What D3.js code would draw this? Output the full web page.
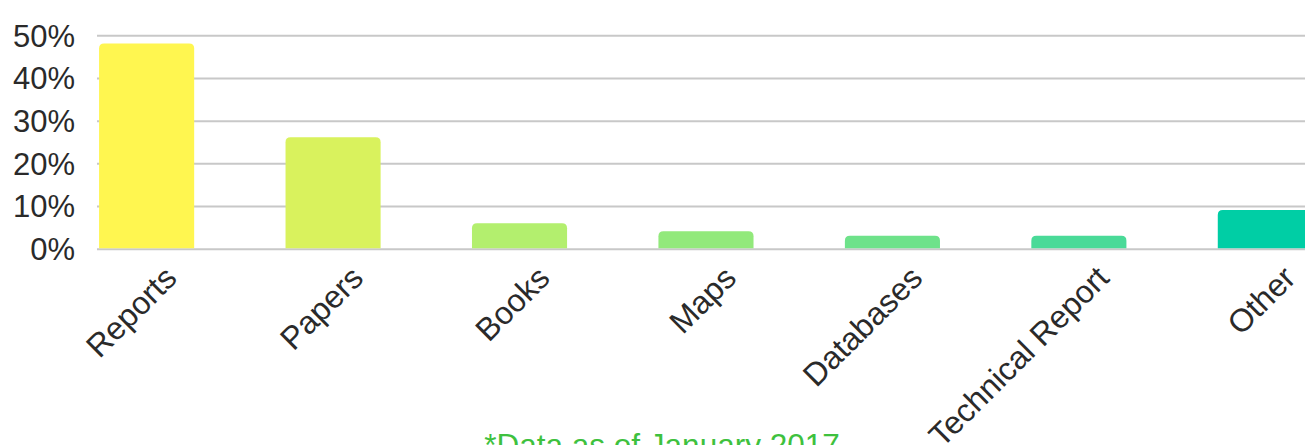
<!DOCTYPE html>
<html>
<head>
<meta charset="utf-8">
<script src="https://cdn.jsdelivr.net/npm/d3@7"></script>
<style>
  html, body { margin: 0; padding: 0; background: #fff; overflow: hidden; }
  svg { display: block; font-family: "Liberation Sans", Arial, sans-serif; }
</style>
</head>
<body>
<svg id="chart" width="1305" height="445"></svg>
<script>
const categories = ["Reports", "Papers", "Books", "Maps", "Databases", "Technical Report", "Other"];
const values = [48.2, 26.2, 6.1, 4.2, 3.2, 3.2, 9.2];
const colors = ["#fff650", "#d9f25d", "#b3ef6e", "#92e97b", "#6ee28a", "#4ada98", "#00cea5"];
const yTicks = [0, 10, 20, 30, 40, 50];
const footnote = "*Data as of January 2017";

const svg = d3.select("#chart");
const W = 1305;

const x = d3.scaleBand()
  .domain(categories)
  .range([53.4, 53.4 + 7 * 186.45])
  .paddingInner(0.49)
  .paddingOuter(0.245);

const y = d3.scaleLinear().domain([0, 50]).range([249.3, 35.7]);

// gridlines
svg.append("g").selectAll("line").data(yTicks).join("line")
  .attr("x1", 97).attr("x2", W)
  .attr("y1", d => y(d)).attr("y2", d => y(d))
  .attr("stroke", "#c8c8c8").attr("stroke-width", 2);

// y tick labels
svg.append("g").selectAll("text").data(yTicks).join("text")
  .attr("x", 75).attr("y", d => y(d))
  .attr("dy", "0.35em")
  .attr("text-anchor", "end")
  .attr("font-size", 31)
  .attr("fill", "#2a2a2a")
  .text(d => d + "%");

// bars with rounded top corners
const r = 5;
function barPath(x0, w, yTop, yBase) {
  const rr = Math.min(r, (yBase - yTop), w / 2);
  return `M${x0},${yBase}V${yTop + rr}Q${x0},${yTop} ${x0 + rr},${yTop}H${x0 + w - rr}Q${x0 + w},${yTop} ${x0 + w},${yTop + rr}V${yBase}Z`;
}
svg.append("g").selectAll("path").data(categories).join("path")
  .attr("d", (c, i) => barPath(x(c), x.bandwidth(), y(values[i]), y(0) - 1))
  .attr("fill", (c, i) => colors[i]);

// x labels
svg.append("g").selectAll("text").data(categories).join("text")
  .attr("transform", c => `translate(${x(c) + x.bandwidth() / 2 + 32},${280}) rotate(-45)`)
  .attr("text-anchor", "end")
  .attr("font-size", 32)
  .attr("fill", "#2a2a2a")
  .text(c => c);

// footnote
svg.append("text")
  .attr("x", 662).attr("y", 455.5)
  .attr("text-anchor", "middle")
  .attr("font-size", 31.5)
  .attr("fill", "#3ec13e")
  .text(footnote);
</script>
</body>
</html>
